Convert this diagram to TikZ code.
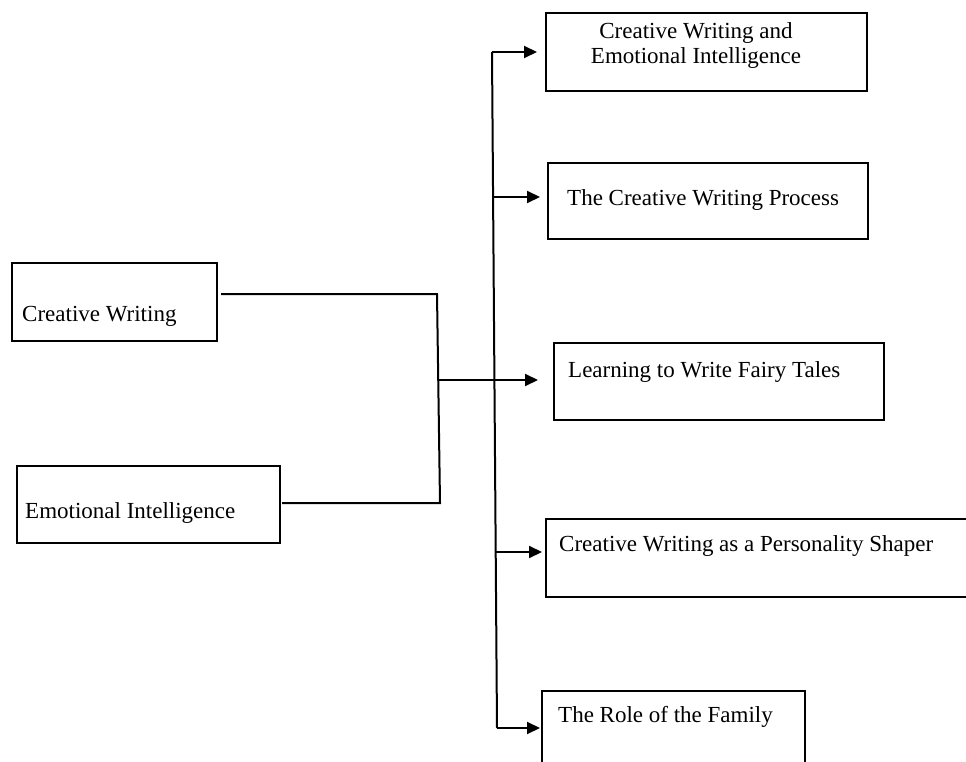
\documentclass[tikz,border=0pt]{standalone}
\usepackage{fontspec}
\setmainfont{Liberation Serif}
\usetikzlibrary{arrows.meta}
\begin{document}
\begin{tikzpicture}[x=1pt,y=-1pt,
  box/.style={draw, line width=2pt, inner sep=0pt, anchor=north west},
  lbl/.style={anchor=base west, inner sep=0pt, font=\fontsize{23}{25}\selectfont},
  conn/.style={line width=2pt},
  arr/.style={conn, -{Triangle[length=13pt,width=12pt]}}]
\useasboundingbox (0,0) rectangle (966,762);
\clip (0,0) rectangle (966,762);
% boxes
\node[box, minimum width=321pt, minimum height=78pt] (b1) at (545,12) {};
\node[box, minimum width=320pt, minimum height=76pt] (b2) at (547,162) {};
\node[box, minimum width=330pt, minimum height=77pt] (b3) at (553,342) {};
\node[box, minimum width=440pt, minimum height=78pt] (b4) at (545,518) {};
\node[box, minimum width=263pt, minimum height=95pt] (b5) at (541,690) {};
\node[box, minimum width=205pt, minimum height=78pt] (cw) at (11,262) {};
\node[box, minimum width=263pt, minimum height=77pt] (ei) at (16,465) {};
% texts
\node[anchor=center, inner sep=0pt, align=center, font=\fontsize{23}{25}\selectfont] (t1txt) at (696,46) {Creative Writing and\\Emotional Intelligence};
\node[lbl] (t2txt) at (567,205) {The Creative Writing Process};
\node[lbl] (t3txt) at (568,377) {Learning to Write Fairy Tales};
\node[lbl] (t4txt) at (559,551) {Creative Writing as a Personality Shaper};
\node[lbl] (t5txt) at (558,722) {The Role of the Family};
\node[lbl] (cwtxt) at (22,321) {Creative Writing};
\node[lbl] (eitxt) at (25,518) {Emotional Intelligence};
% connector coordinates
\coordinate (cwe) at (221,294);
\coordinate (j1) at (437,294);
\coordinate (j2) at (440,503);
\coordinate (eie) at (282,503);
\coordinate (m) at (439,380);
\coordinate (s1) at (492,52);
\coordinate (s2) at (493,197);
\coordinate (s4) at (496,552);
\coordinate (s5) at (497,728);
\coordinate (a1) at (537,52);
\coordinate (a2) at (540,197);
\coordinate (a3) at (538,380);
\coordinate (a4) at (542,552);
\coordinate (a5) at (540,728);
% connectors
\draw[conn] (cwe) -- (j1) -- (j2) -- (eie);
\draw[conn] (s1) -- (s5);
\draw[arr] (m) -- (a3);
\draw[arr] (s1) -- (a1);
\draw[arr] (s2) -- (a2);
\draw[arr] (s4) -- (a4);
\draw[arr] (s5) -- (a5);
\end{tikzpicture}
\end{document}
